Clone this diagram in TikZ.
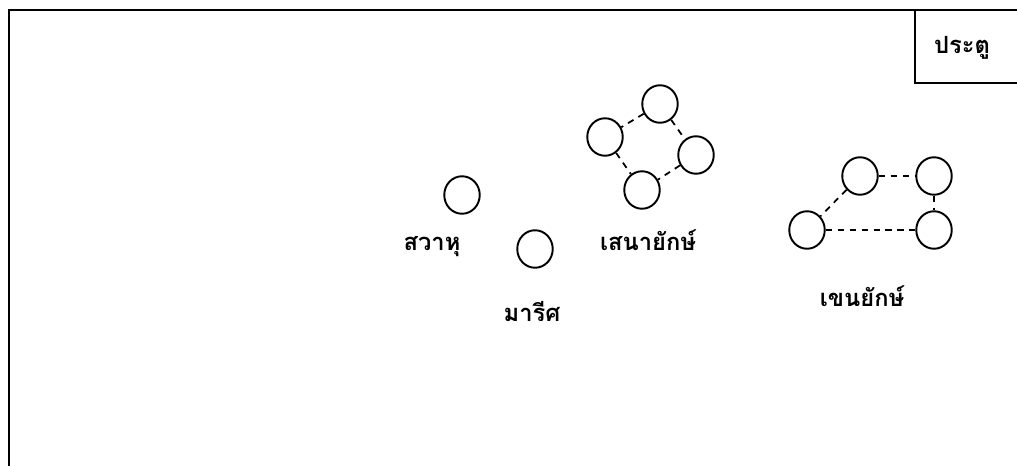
\documentclass[tikz,border=0pt]{standalone}
\usepackage{fontspec}
\usetikzlibrary{shapes.geometric}
\newfontfamily\thaifont[Script=Thai]{Loma}
\begin{document}
\begin{tikzpicture}[%
      x = 0.02cm,
      y = -0.02cm,
      person/.style={%
        ellipse,
        draw          = black,
        line width    = 1.1pt,
        minimum width = 0.71cm,
        minimum height= 0.75cm,
        inner sep     = 0pt,
      },
      demonname/.style={%
        font          = \thaifont\bfseries\fontsize{13.5}{15}\selectfont,
        inner sep     = 0pt,
      },
      link/.style={%
        line width    = 1pt,
        dash pattern  = on 3.6pt off 3.2pt,
      },
      wall/.style={%
        line width    = 1.3pt,
      }
      ]

      \useasboundingbox (0,0) rectangle (1017,466);

      % room and door
      \draw[wall] (9,466) -- (9,10) -- (1017,10);
      \draw[wall] (915,10) -- (915,83) -- (1017,83);
      \node[demonname] (Door) at (962,48) {ประตู};

      % single demons
      \node[person] (Savahu) at (462,195) {};
      \node[demonname] (Savahu-Lbl) at (432,247) {สวาหุ};
      \node[person] (Marit) at (535,249) {};
      \node[demonname] (Marit-Lbl) at (532,312) {มารีศ};

      % army group
      \node[person] (Army-T) at (660,104) {};
      \node[person] (Army-L) at (605,137) {};
      \node[person] (Army-R) at (696,155) {};
      \node[person] (Army-B) at (642,190) {};
      \node[demonname] (Army-Lbl) at (648,240) {เสนายักษ์};

      \draw[link] (Army-T) -- (Army-L);
      \draw[link] (Army-T) -- (Army-R);
      \draw[link] (Army-L) -- (Army-B);
      \draw[link] (Army-R) -- (Army-B);

      % shield group
      \node[person] (Shield-TL) at (860,176) {};
      \node[person] (Shield-TR) at (934,176) {};
      \node[person] (Shield-BL) at (807,230) {};
      \node[person] (Shield-BR) at (934,230) {};
      \node[demonname] (Shield-Lbl) at (862,296) {เขนยักษ์};

      \draw[link] (Shield-TL) -- (Shield-TR);
      \draw[link] (Shield-TL) -- (Shield-BL);
      \draw[link] (Shield-BL) -- (Shield-BR);
      \draw[link] (Shield-TR) -- (Shield-BR);

    \end{tikzpicture}
\end{document}
